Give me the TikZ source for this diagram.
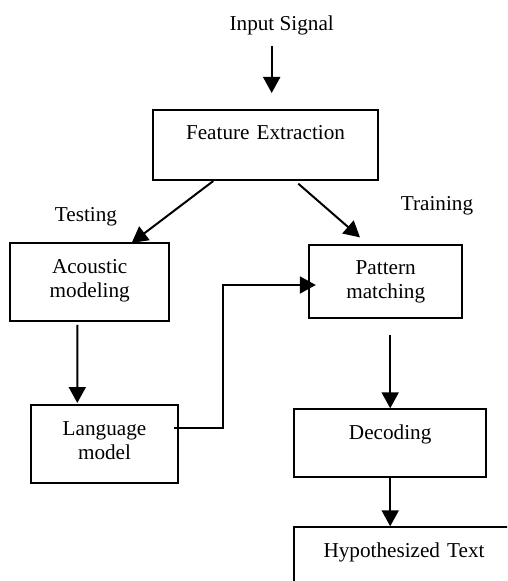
\documentclass[tikz,border=0pt]{standalone}
\usepackage{fontspec}
\setmainfont{Liberation Serif}
\usetikzlibrary{arrows.meta,calc}

\begin{document}
\begin{tikzpicture}[x=0.5pt,y=-0.5pt,
              font=\fontsize{10.6pt}{12pt}\selectfont,
              box/.style={draw,line width=1pt,inner sep=0,text height=15pt,align=center,anchor=base},
              lab/.style={inner sep=0,anchor=base},
              arr/.style={line width=1pt,-{Triangle[length=8pt,width=8.5pt]}}]
              \useasboundingbox (0,0) rectangle (507,581);
              \clip (0,0) rectangle (507,581);
              \node[lab] (sig) at (281.7,30.7) {Input Signal};
              \node[box,text width=112.5pt,text depth=20pt] (fe) at (265.5,140) {Feature Extraction};
              \node[lab] (test) at (86,221.7) {Testing};
              \node[lab] (train) at (437,211) {Training};
              \node[box,text width=79.7pt,text depth=24pt] (ac) at (89.7,273.3) {Acoustic\\modeling};
              \node[box,text width=76.3pt,text depth=21.3pt] (pat) at (385.7,275) {Pattern\\matching};
              \node[box,text width=73.8pt,text depth=23.8pt] (lm) at (104.5,435) {Language\\model};
              \node[box,text width=95.8pt,text depth=18.7pt] (dec) at (390.2,439.3) {Decoding};
              \node[box,text width=109.7pt,text depth=40pt] (hyp) at (404,557.3) {Hypothesized Text};
              \draw[arr] ($(sig.south)+(-10,10.7)$) -- ($(fe.north)+(6.2,-16)$);
              \draw[arr] ($(fe.south)+(-52.2,0)$) -- ($(ac.north)+(42,0.6)$);
              \draw[arr] ($(fe.south)+(32.8,2.7)$) -- ($(pat.north)+(-25.7,-6.6)$);
              \draw[arr] ($(ac.south)+(-12.4,2.7)$) -- ($(lm.north)+(-27.2,-1)$);
              \draw[arr] ($(lm.north east)+(-5,24)$) -| ($(pat.north west)+(-85.3,41)$)
              -- ($(pat.north west)+(7.4,41)$);
              \draw[arr] ($(pat.south -| dec.north)+(0,16)$) -- (dec.north);
              \draw[arr] (dec.south) -- (dec.south |- hyp.north);
            \end{tikzpicture}
\end{document}
